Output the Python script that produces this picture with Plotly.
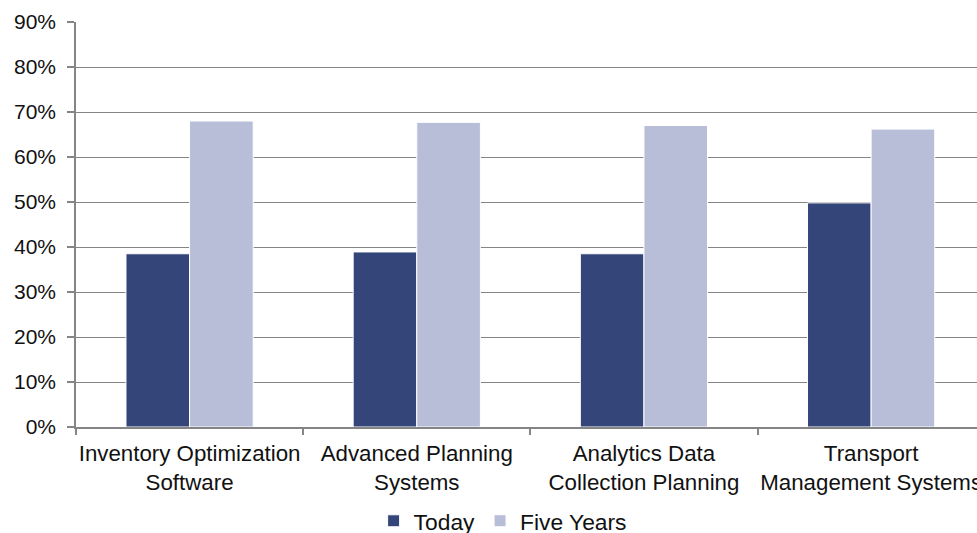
import plotly.graph_objects as go

# Chart data
categories = [
    "Inventory Optimization<br>Software",
    "Advanced Planning<br>Systems",
    "Analytics Data<br>Collection Planning",
    "Transport<br>Management Systems",
]
today = [0.385, 0.389, 0.385, 0.498]
five_years = [0.680, 0.677, 0.670, 0.662]
y_ticks = [0, 0.1, 0.2, 0.3, 0.4, 0.5, 0.6, 0.7, 0.8, 0.9]

FONT = "Liberation Sans, Arial, sans-serif"
GRID = "#858585"
AXIS = "#858585"

fig = go.Figure()
fig.add_trace(go.Bar(
    name="Today", x=categories, y=today,
    marker=dict(color="#34457A", line=dict(color="#ffffff", width=1)),
))
fig.add_trace(go.Bar(
    name="Five Years", x=categories, y=five_years,
    marker=dict(color="#B8BDD8", line=dict(color="#ffffff", width=1)),
))

fig.update_layout(
    width=977, height=533,
    margin=dict(l=76, r=0, t=22, b=106, pad=0, autoexpand=False),
    paper_bgcolor="white", plot_bgcolor="white",
    barmode="group", bargap=0.44, bargroupgap=0,
    font=dict(family=FONT, size=21, color="#111111"),
    showlegend=True,
    legend=dict(
        orientation="h",
        x=0.4735, xanchor="center", y=-0.232, yanchor="middle",
        font=dict(size=22.8), traceorder="normal",
        bgcolor="rgba(0,0,0,0)",
    ),
)

fig.update_xaxes(
    range=[-0.5, 3.466],
    showline=True, linecolor=AXIS, linewidth=1.5,
    ticks="outside", ticklen=6, tickcolor=AXIS, tickwidth=1.5,
    tickson="boundaries",
    tickangle=0, automargin=False,
    ticklabelstandoff=5,
    showgrid=False, zeroline=False,
    tickfont=dict(size=22.3),
    fixedrange=True,
)
fig.update_yaxes(
    range=[0, 0.9],
    tickvals=y_ticks, tickformat=".0%",
    showline=True, linecolor=AXIS, linewidth=1.5,
    ticks="outside", ticklen=7, tickcolor=AXIS, tickwidth=1.5,
    ticklabelstandoff=7, automargin=False,
    showgrid=True, gridcolor=GRID, gridwidth=1.3,
    zeroline=False,
    tickfont=dict(size=21),
    fixedrange=True,
)

fig.write_html("out.html")
